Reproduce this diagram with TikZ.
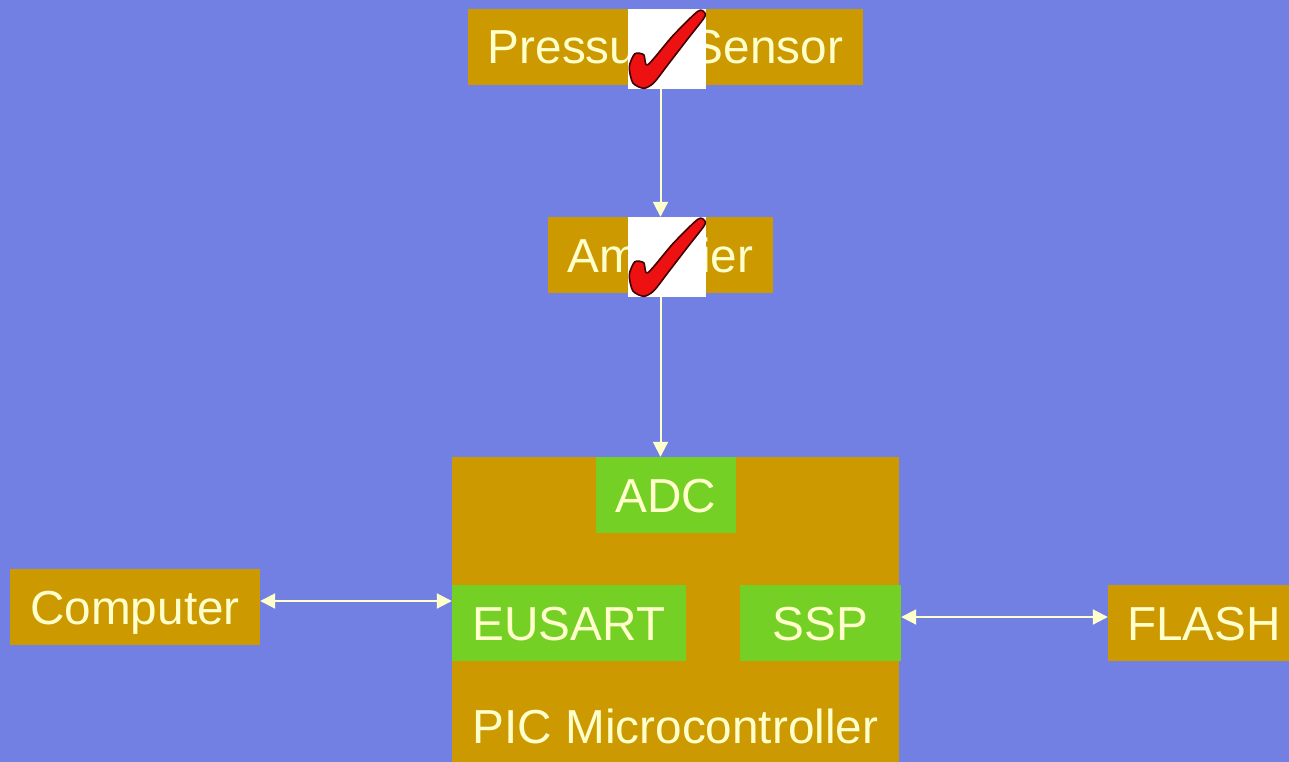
\documentclass[tikz,border=0pt]{standalone}
\usepackage{fontspec}
\setmainfont{Liberation Sans}
\usetikzlibrary{arrows.meta}
\definecolor{bg}{HTML}{7280E4}
\definecolor{gold}{HTML}{CC9900}
\definecolor{grn}{HTML}{74D024}
\definecolor{txt}{HTML}{FFFFCC}
\definecolor{chkred}{HTML}{EE1111}
\definecolor{chkline}{HTML}{400000}
\tikzset{chkmark/.pic={
  \filldraw[fill=chkred, draw=chkline, line width=1.6pt] plot[smooth cycle, tension=0.45] coordinates {
   (1.5,58) (7,45) (16,46) (20,56) (45,27) (70,2.5) (77,4) (76,9.5) (60,30) (40,56) (26,74) (16,79.5) (5,74)};
}}
\begin{document}
\begin{tikzpicture}[x=1pt,y=-1pt,
 lbl/.style={inner sep=0pt, text=txt, font=\fontsize{47.7}{50}\selectfont, text height=34pt, text depth=0pt},
 box/.style={lbl, fill=gold, minimum height=76pt},
 gbox/.style={box, fill=grn},
 chkbox/.style={fill=white, inner sep=0pt, minimum width=78pt, minimum height=80pt},
 conn/.style={draw=txt, line width=2pt, -{Triangle[length=15pt,width=15pt]}},
 biconn/.style={draw=txt, line width=2pt, {Triangle[length=15pt,width=15pt]}-{Triangle[length=15pt,width=15pt]}},
]
\fill[bg] (0,0) rectangle (1289,762);
\useasboundingbox (0,0) rectangle (1289,762);

\node[box, minimum width=395pt] (ps) at (665.5,47) {Pressure Sensor};
\node[chkbox] (c1) at (667,49) {};
\pic at (c1.north west) {chkmark};

\node[box, minimum width=225pt] (amp) at (660.5,255) {Amplifier};
\node[chkbox] (c2) at (667,257) {};
\pic at (c2.north west) {chkmark};

\node[fill=gold, inner sep=0pt, minimum width=447pt, minimum height=320pt] (pic) at (675.5,617) {};
\node[lbl] (piclab) at (675.5,726.5) {PIC Microcontroller};
\node[gbox, minimum width=140pt] (adc) at (666,495) {ADC};
\node[gbox, minimum width=234pt] (eusart) at (569,623) {EUSART};
\node[gbox, minimum width=161pt] (ssp) at (820.5,623) {SSP};

\node[box, minimum width=250pt] (comp) at (135,607) {Computer};
\node[box, minimum width=192pt] (flash) at (1204,623) {FLASH};

\draw[conn] (c1.south -| amp.north) -- (amp.north);
\draw[conn] (c2.south -| amp.north) -- (amp.north |- pic.north);
\draw[biconn] ([yshift=6pt]comp.east) -- ([yshift=6pt]comp.east -| eusart.west);
\draw[biconn] ([yshift=6pt]ssp.east) -- ([yshift=6pt]ssp.east -| flash.west);
\end{tikzpicture}
\end{document}
